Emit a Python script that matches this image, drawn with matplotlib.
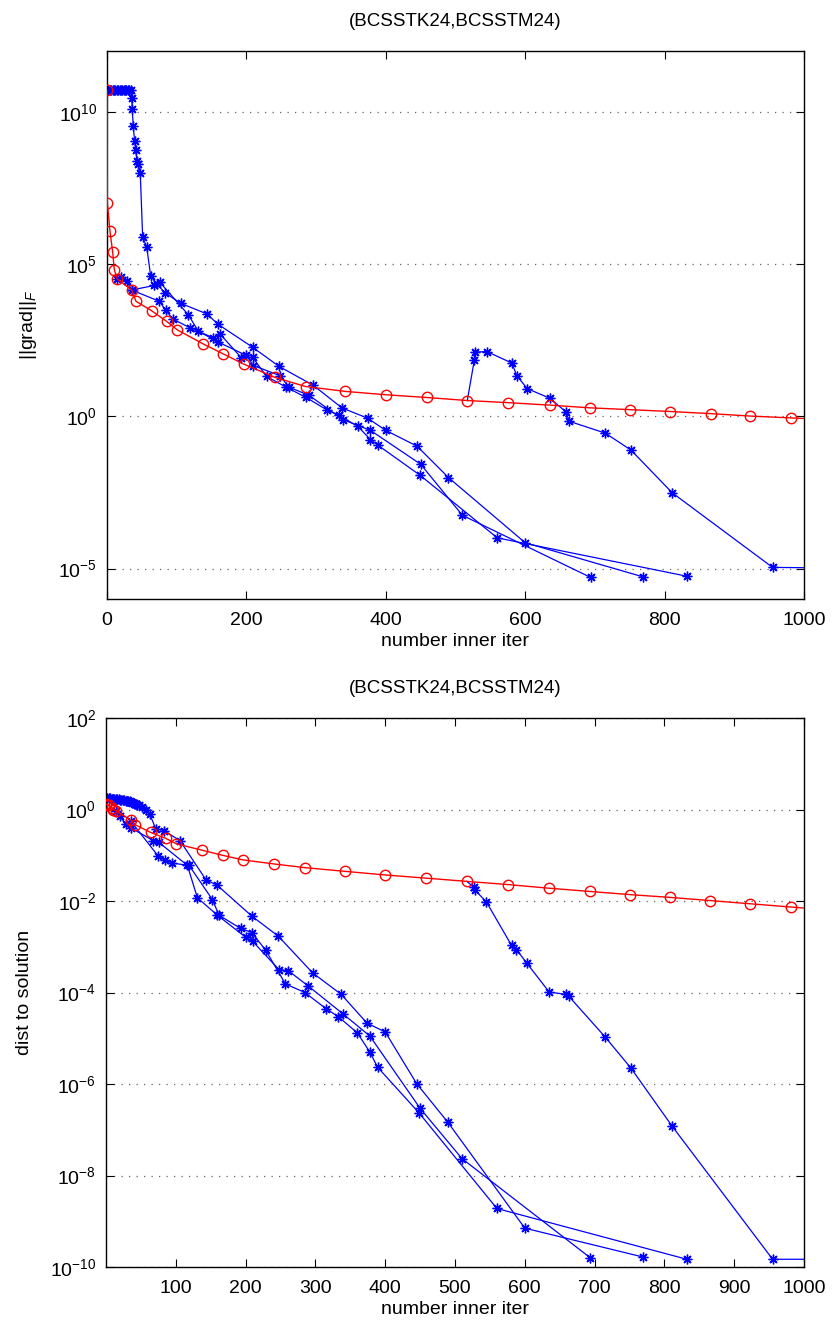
import matplotlib
matplotlib.use("Agg")
import matplotlib.pyplot as plt
import numpy as np

plt.rcParams["font.family"] = ["Liberation Sans", "DejaVu Sans"]
plt.rcParams["mathtext.fontset"] = "custom"
plt.rcParams["mathtext.rm"] = "Liberation Sans"
plt.rcParams["mathtext.it"] = "Liberation Sans:italic"

TITLE = "(BCSSTK24,BCSSTM24)"

# red method (circles): iteration, log10 ||grad||, log10 dist
red_it = [0, 0.5, 4.3, 8.2, 10.5, 14.8, 35.4, 41.6, 64, 85.6, 101, 138, 167, 196, 241,
          285, 342, 400, 459, 517, 576, 635, 693, 751, 808, 866, 923, 981, 1039]
red_grad = [10.71, 7.02, 6.08, 5.39, 4.82, 4.51, 4.15, 3.78, 3.47, 3.12, 2.84, 2.38, 2.05,
            1.72, 1.28, 0.98, 0.82, 0.71, 0.62, 0.52, 0.45, 0.37, 0.28, 0.22, 0.16, 0.09,
            0.01, -0.05, -0.11]
red_dist = [0.12, 0.11, 0.09, 0.04, 0.0, -0.03, -0.23, -0.33, -0.50, -0.63, -0.75, -0.89,
            -1.0, -1.10, -1.19, -1.27, -1.35, -1.43, -1.50, -1.57, -1.64, -1.72, -1.79,
            -1.86, -1.92, -1.99, -2.06, -2.13, -2.20]

# blue runs (asterisks)
s1_it = [14.8, 19.7, 28.3, 35.4, 68, 76, 116.6, 131, 159.7, 200, 210, 248, 261, 290,
         339, 378, 450, 510, 694]
s1_grad = [4.51, 4.57, 4.44, 4.15, 4.30, 4.40, 3.34, 2.80, 2.44, 2.0, 1.67, 1.34, 0.96,
           0.69, -0.11, -0.46, -1.57, -3.25, -5.29]
s1_dist = [-0.03, -0.15, -0.31, -0.40, -0.68, -0.72, -1.22, -1.93, -2.31, -2.79, -2.88,
           -3.50, -3.52, -3.86, -4.46, -4.95, -6.53, -7.63, -9.80]

s2_it = [0, 2, 4, 6, 8, 10, 12, 14, 16, 18, 20, 22, 24, 26, 28, 30, 32, 34, 35.4, 36.3,
         37.7, 39.7, 41.2, 43, 44.9, 47.8, 51.2, 57, 62.7, 71.3, 83.2, 106, 143, 159.7,
         209, 247, 296, 337, 374, 400, 445, 490, 600, 769]
s2_grad = [10.71, 10.71, 10.71, 10.71, 10.71, 10.71, 10.71, 10.71, 10.71, 10.71, 10.71,
           10.71, 10.71, 10.71, 10.71, 10.71, 10.71, 10.71, 10.47, 10.09, 9.53, 9.03, 8.74,
           8.39, 8.29, 7.98, 5.88, 5.57, 4.61, 4.35, 4.06, 3.71, 3.37, 3.02, 2.27, 1.64,
           1.02, 0.28, -0.06, -0.46, -0.98, -2.01, -4.15, -5.27]
s2_dist = [0.26, 0.26, 0.25, 0.25, 0.24, 0.24, 0.23, 0.23, 0.22, 0.22, 0.21, 0.21, 0.20,
           0.20, 0.19, 0.19, 0.18, 0.18, 0.17, 0.16, 0.15, 0.14, 0.13, 0.12, 0.11, 0.10,
           0.05, 0.0, -0.10, -0.42, -0.46, -0.68, -1.53, -1.66, -2.33, -2.77, -3.57, -4.04,
           -4.67, -4.86, -5.99, -6.84, -9.15, -9.78]

s3_it = [35.4, 75, 84.6, 94.3, 119, 152.5, 162, 193, 209, 229, 257, 285, 315, 333, 360,
         378, 389, 449, 560, 832]
s3_grad = [4.15, 3.78, 3.48, 3.20, 2.91, 2.58, 2.71, 1.92, 1.94, 1.31, 0.96, 0.63, 0.22,
           0.03, -0.33, -0.76, -0.95, -1.93, -3.99, -5.25]
s3_dist = [-0.25, -1.02, -1.10, -1.17, -1.22, -1.97, -2.31, -2.60, -2.69, -3.08, -3.81,
           -4.0, -4.35, -4.53, -4.88, -5.30, -5.63, -6.64, -8.72, -9.83]

# leaves the red method at iteration 517
s4_it = [517, 527, 528, 545, 581, 588, 603, 635, 659, 663, 715, 752, 811, 955, 1045]
s4_grad = [0.52, 1.84, 2.11, 2.13, 1.75, 1.34, 0.91, 0.60, 0.14, -0.16, -0.55, -1.11,
           -2.51, -4.96, -4.98]
s4_dist = [-1.57, -1.70, -1.75, -2.02, -2.97, -3.06, -3.36, -3.99, -4.04, -4.08, -4.97,
           -5.65, -6.92, -9.83, -9.83]

blue_runs = [
    (s1_it, s1_grad, s1_dist, 0),
    (s2_it, s2_grad, s2_dist, 0),
    (s3_it, s3_grad, s3_dist, 0),
    (s4_it, s4_grad, s4_dist, 1),
]

ASTER = (8, 2, 0)  # matlab-like '*'


def draw(ax, which):
    for it, g, d, skip in blue_runs:
        y = 10.0 ** np.array(g if which == "grad" else d)
        ax.plot(it, y, "-", color="blue", lw=0.9, zorder=2)
        ax.plot(it[skip:], y[skip:], ls="none", marker=ASTER, color="blue", ms=7, mew=1.0,
                zorder=2)
    y = 10.0 ** np.array(red_grad if which == "grad" else red_dist)
    ax.plot(red_it, y, "-o", color="red", lw=1.0, ms=7.5, mfc="none", mew=1.0, zorder=3)


def style(ax):
    ax.set_yscale("log")
    ax.minorticks_off()
    ax.grid(axis="y", ls=(0, (1, 5)), color="0.4", lw=0.9)
    ax.tick_params(direction="in", which="both", top=True, right=True, labelsize=14,
                   length=6, width=0.8, pad=7)
    ax.tick_params(axis="x", pad=9)
    for sp in ax.spines.values():
        sp.set_linewidth(1.0)
    ax.set_title(TITLE, fontsize=13.5, pad=18)
    ax.set_xlabel("number inner iter", fontsize=14, labelpad=3)


fig = plt.figure(figsize=(8.37, 13.28), dpi=100)

ax1 = fig.add_axes([0.1278, 0.5489, 0.8327, 0.4127])
draw(ax1, "grad")
style(ax1)
ax1.set_xlim(0, 1000)
ax1.set_ylim(1e-6, 1e12)
ax1.set_xticks([0, 200, 400, 600, 800, 1000])
ax1.set_yticks([1e-5, 1e0, 1e5, 1e10])
ax1.set_ylabel(r"||grad||$_F$", fontsize=14, labelpad=14)

ax2 = fig.add_axes([0.1266, 0.0459, 0.834, 0.4134])
draw(ax2, "dist")
style(ax2)
ax2.set_xlim(0, 1000)
ax2.set_ylim(1e-10, 1e2)
ax2.set_xticks([100, 200, 300, 400, 500, 600, 700, 800, 900, 1000])
ax2.set_yticks([1e-10, 1e-8, 1e-6, 1e-4, 1e-2, 1e0, 1e2])
ax2.set_ylabel("dist to solution", fontsize=14, labelpad=12)

fig.savefig("out.png", dpi=100)
